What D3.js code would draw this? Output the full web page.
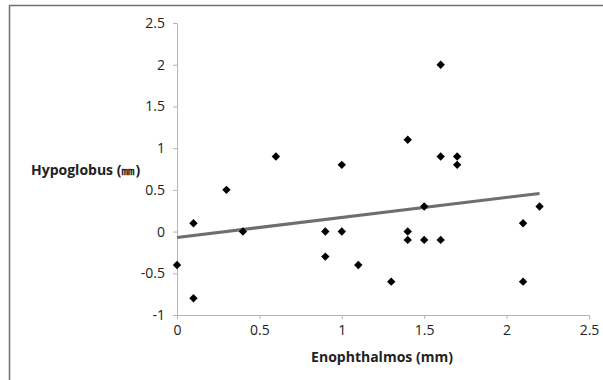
<!DOCTYPE html>
<html>
<head>
<meta charset="utf-8">
<script src="https://cdn.jsdelivr.net/npm/d3@7"></script>
<style>
  body { margin: 0; background: #fff; }
  svg text { font-family: "Open Sans", "Noto Sans", sans-serif; fill: #222; }
  .axis path, .axis line { stroke: #b5b5b5; }
  .axis text { font-size: 14px; }
  .title { font-size: 14px; font-weight: bold; }
</style>
</head>
<body>
<div id="draw-space"></div>
<script>
const enophthalmos = [0, 0.1, 0.1, 0.3, 0.4, 0.6, 0.9, 0.9, 1, 1, 1.1, 1.3, 1.4, 1.4, 1.4,
                      1.5, 1.5, 1.6, 1.6, 1.6, 1.7, 1.7, 2.1, 2.1, 2.2];
const hypoglobus = [-0.4, 0.1, -0.8, 0.5, 0, 0.9, 0, -0.3, 0.8, 0, -0.4, -0.6, 1.1, 0, -0.1,
                    0.3, -0.1, 2, 0.9, -0.1, 0.9, 0.8, 0.1, -0.6, 0.3];
const xTicks = [0, 0.5, 1, 1.5, 2, 2.5];
const yTicks = [-1, -0.5, 0, 0.5, 1, 1.5, 2, 2.5];

const data = enophthalmos.map((x, i) => ({x: x, y: hypoglobus[i]}));

const svg = d3.select('#draw-space').append('svg')
              .attr('width', 603)
              .attr('height', 380);

// outer frame (top and left only visible)
svg.append('path')
   .attr('d', 'M9.5,380 V5.5 H603')
   .attr('fill', 'none')
   .attr('stroke', '#707070')
   .attr('stroke-width', 1.5);

const xScale = d3.scaleLinear().domain([0, 2.5]).range([177, 589]);
const yScale = d3.scaleLinear().domain([-1, 2.5]).range([315, 23]);

svg.append('g')
   .attr('class', 'axis')
   .attr('transform', `translate(0,${yScale(-1)})`)
   .call(d3.axisBottom(xScale).tickValues(xTicks).tickSize(4).tickSizeOuter(0).tickPadding(6).tickFormat(d => String(d)))
   .call(g => g.selectAll('text').attr('font-family', null).attr('font-size', null));

svg.append('g')
   .attr('class', 'axis')
   .attr('transform', `translate(${xScale(0)},0)`)
   .call(d3.axisLeft(yScale).tickValues(yTicks).tickSize(4).tickSizeOuter(0).tickPadding(8).tickFormat(d => String(d)))
   .call(g => g.selectAll('text').attr('font-family', null).attr('font-size', null));

// linear trendline (least squares)
const mx = d3.mean(data, d => d.x), my = d3.mean(data, d => d.y);
const slope = d3.sum(data, d => (d.x - mx) * (d.y - my)) / d3.sum(data, d => (d.x - mx) ** 2);
const icpt = my - slope * mx;
const xr = d3.extent(enophthalmos);

svg.append('line')
   .attr('x1', xScale(xr[0]))
   .attr('y1', yScale(icpt + slope * xr[0]))
   .attr('x2', xScale(xr[1]))
   .attr('y2', yScale(icpt + slope * xr[1]))
   .attr('stroke', '#6e6e6e')
   .attr('stroke-width', 3);

svg.selectAll('.pt')
   .data(data)
   .enter()
   .append('path')
   .attr('class', 'pt')
   .attr('d', d3.symbol(d3.symbolDiamond2, 45))
   .attr('transform', d => `translate(${xScale(d.x)},${yScale(d.y)})`)
   .attr('fill', '#000');

svg.append('text')
   .attr('class', 'title')
   .attr('x', 382)
   .attr('y', 362)
   .attr('text-anchor', 'middle')
   .text('Enophthalmos (mm)');

svg.append('text')
   .attr('class', 'title')
   .attr('x', 31)
   .attr('y', 175)
   .text('Hypoglobus (㎜)');
</script>
</body>
</html>
